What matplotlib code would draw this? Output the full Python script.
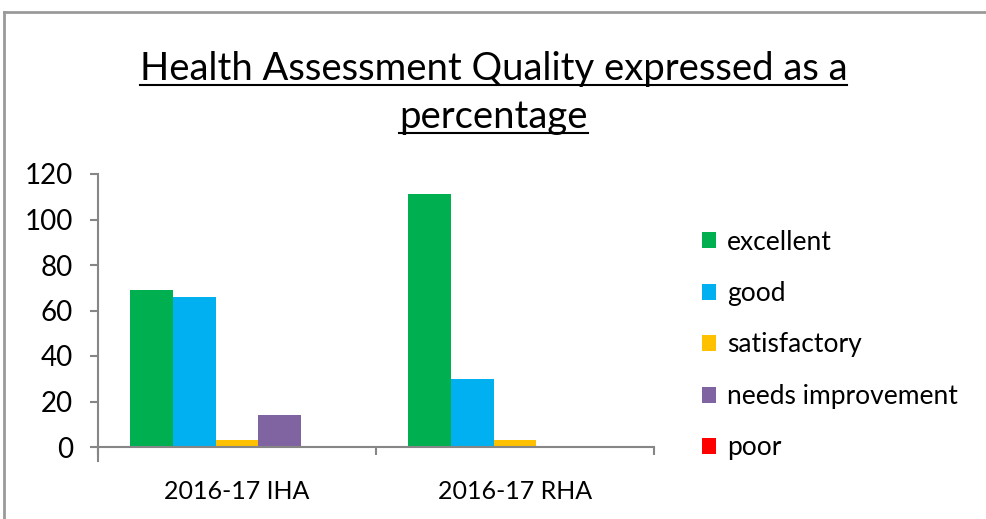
import matplotlib
matplotlib.use("Agg")
import matplotlib.pyplot as plt
from matplotlib.lines import Line2D
from matplotlib.patches import Patch
import numpy as np

# data
categories = ["2016-17 IHA", "2016-17 RHA"]
series = ["excellent", "good", "satisfactory", "needs improvement", "poor"]
excellent = [69, 111]
good = [66, 30]
satisfactory = [3, 3]
needs_improvement = [14, 0]
poor = [0, 0]
values = [excellent, good, satisfactory, needs_improvement, poor]
colours = ["#00B050", "#00B0F0", "#FFC000", "#8064A2", "#FF0000"]

title_1 = "Health Assessment Quality expressed as a"
title_2 = "percentage"

plt.rcParams["font.family"] = ["Lato", "DejaVu Sans"]

W, H = 987, 519
fig = plt.figure(figsize=(W / 100, H / 100), dpi=100)
ax = fig.add_axes([98 / W, 1 - 447 / H, (654 - 98) / W, (447 - 174) / H])

x = np.arange(len(categories))
bw = 1 / (len(series) + 1.5)
for i, (name, vals, col) in enumerate(zip(series, values, colours)):
    ax.bar(x + (i - 2) * bw, vals, width=bw, color=col, label=name, linewidth=0)

ax.set_xlim(-0.5, 1.5)
ax.set_ylim(0, 120)
ax.set_yticks(range(0, 121, 20))
ax.set_xticks([-0.5, 0.5, 1.5])
ax.set_xticklabels([])
ax.set_xticks(x, minor=True)
ax.set_xticklabels(categories, minor=True)
ax.tick_params(axis="x", which="major", length=6, width=1.5, color="#868686", direction="out")
ax.tick_params(axis="x", which="minor", length=0, pad=24, labelsize=18)
ax.tick_params(axis="y", length=6, width=1.5, color="#868686", pad=12, labelsize=20)
for s in ["top", "right"]:
    ax.spines[s].set_visible(False)
for s in ["left", "bottom"]:
    ax.spines[s].set_color("#868686")
    ax.spines[s].set_linewidth(1.5)
ax.spines["left"].set_bounds(-6, 120)

handles = [Patch(facecolor=c, edgecolor="none") for c in colours]
fig.legend(handles, series, loc="center left", bbox_to_anchor=(678 / W, 1 - 345 / H),
           frameon=False, fontsize=19, handlelength=0.55, handleheight=0.55,
           handletextpad=0.4, labelspacing=1.0)

# title, two lines, underlined
t1 = fig.text(0.5, 1 - 80 / H, title_1, ha="center", va="baseline", fontsize=27.5)
t2 = fig.text(0.5, 1 - 128 / H, title_2, ha="center", va="baseline", fontsize=27.5)
fig.canvas.draw()
r = fig.canvas.get_renderer()
for t, yb in [(t1, 80), (t2, 128)]:
    bb = t.get_window_extent(r)
    yl = 1 - (yb + 5) / H
    fig.add_artist(Line2D([bb.x0 / W, bb.x1 / W], [yl, yl], color="black", lw=1.5))

# outer chart border
fig.add_artist(Line2D([4 / W, 1], [1 - 12 / H, 1 - 12 / H], color="#9a9a9a", lw=2))
fig.add_artist(Line2D([4 / W, 4 / W], [0, 1 - 12 / H], color="#9a9a9a", lw=2))

fig.savefig("out.png", dpi=100)
